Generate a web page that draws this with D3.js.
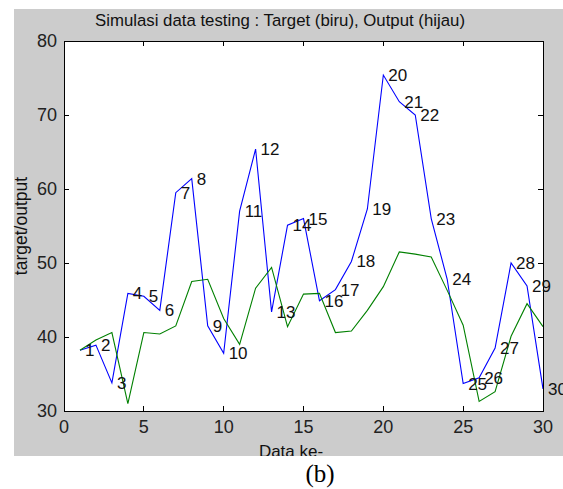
<!DOCTYPE html>
<html>
<head>
<meta charset="utf-8">
<script src="https://cdn.jsdelivr.net/npm/d3@7"></script>
<style>
  body { margin: 0; background: #fff; }
  svg { display: block; }
</style>
</head>
<body>
<div id="chart"></div>
<script>
// Data (30 testing samples)
const sampleIdx = d3.range(1, 31);
const targetVals = [38.2, 38.9, 33.8, 45.9, 45.5, 43.6, 59.5, 61.4, 41.5, 37.8,
                    57.0, 65.4, 43.4, 55.1, 56.0, 44.9, 46.4, 50.2, 57.3, 75.4,
                    71.8, 70.0, 56.0, 47.8, 33.7, 34.5, 38.5, 50.0, 46.9, 33.0];
const outputVals = [38.2, 39.6, 40.6, 31.0, 40.6, 40.4, 41.5, 47.5, 47.8, 42.5,
                    39.0, 46.6, 49.4, 41.4, 45.8, 45.9, 40.6, 40.8, 43.6, 46.8,
                    51.5, 51.2, 50.8, 46.3, 41.6, 31.3, 32.6, 40.1, 44.5, 41.4];
const xTicks = [0, 5, 10, 15, 20, 25, 30];
const yTicks = [30, 40, 50, 60, 70, 80];

const W = 563, H = 489;
const plot = { left: 64, right: 543, top: 41, bottom: 411 };

const svg = d3.select('#chart').append('svg')
    .attr('width', W)
    .attr('height', H)
    .style('font-family', 'Arial, "Liberation Sans", Helvetica, sans-serif');

// figure background (MATLAB grey)
svg.append('rect')
    .attr('x', 14).attr('y', 9)
    .attr('width', W - 14).attr('height', 456 - 9)
    .attr('fill', '#cccccc');

const x = d3.scaleLinear().domain([0, 30]).range([plot.left, plot.right]);
const y = d3.scaleLinear().domain([30, 80]).range([plot.bottom, plot.top]);

// axes face
svg.append('rect')
    .attr('x', plot.left).attr('y', plot.top)
    .attr('width', plot.right - plot.left)
    .attr('height', plot.bottom - plot.top)
    .attr('fill', '#ffffff');

// ticks pointing inward on all four sides, like a boxed matlab axes
const tickLen = 5;
const axisGroup = svg.append('g')
    .attr('stroke', '#000')
    .attr('stroke-width', 1)
    .attr('shape-rendering', 'crispEdges');

axisGroup.selectAll('.xt-bottom').data(xTicks).join('line')
    .attr('class', 'xt-bottom')
    .attr('x1', d => x(d)).attr('x2', d => x(d))
    .attr('y1', plot.bottom).attr('y2', plot.bottom - tickLen);
axisGroup.selectAll('.xt-top').data(xTicks).join('line')
    .attr('class', 'xt-top')
    .attr('x1', d => x(d)).attr('x2', d => x(d))
    .attr('y1', plot.top).attr('y2', plot.top + tickLen);
axisGroup.selectAll('.yt-left').data(yTicks).join('line')
    .attr('class', 'yt-left')
    .attr('x1', plot.left).attr('x2', plot.left + tickLen)
    .attr('y1', d => y(d)).attr('y2', d => y(d));
axisGroup.selectAll('.yt-right').data(yTicks).join('line')
    .attr('class', 'yt-right')
    .attr('x1', plot.right).attr('x2', plot.right - tickLen)
    .attr('y1', d => y(d)).attr('y2', d => y(d));

// series lines
const lineOf = vals => d3.line()
    .x((d, i) => x(sampleIdx[i]))
    .y(d => y(d))(vals);

svg.append('path')
    .attr('d', lineOf(targetVals))
    .attr('fill', 'none')
    .attr('stroke', '#0000ff')
    .attr('stroke-width', 1.1);

svg.append('path')
    .attr('d', lineOf(outputVals))
    .attr('fill', 'none')
    .attr('stroke', '#008000')
    .attr('stroke-width', 1.1);

// box outline on top of lines
svg.append('rect')
    .attr('x', plot.left).attr('y', plot.top)
    .attr('width', plot.right - plot.left)
    .attr('height', plot.bottom - plot.top)
    .attr('fill', 'none')
    .attr('stroke', '#000')
    .attr('stroke-width', 1)
    .attr('shape-rendering', 'crispEdges');

// point numbers next to each target value
svg.selectAll('.pt-label').data(targetVals).join('text')
    .attr('class', 'pt-label')
    .attr('x', (d, i) => x(sampleIdx[i]) + 5)
    .attr('y', d => y(d))
    .attr('dy', '0.35em')
    .attr('font-size', 17)
    .attr('fill', '#111')
    .text((d, i) => sampleIdx[i]);

// tick labels
svg.selectAll('.x-lab').data(xTicks).join('text')
    .attr('class', 'x-lab')
    .attr('x', d => x(d))
    .attr('y', plot.bottom + 22)
    .attr('text-anchor', 'middle')
    .attr('font-size', 18)
    .attr('fill', '#222')
    .text(d => d);

svg.selectAll('.y-lab').data(yTicks).join('text')
    .attr('class', 'y-lab')
    .attr('x', plot.left - 7)
    .attr('y', d => y(d))
    .attr('dy', '0.35em')
    .attr('text-anchor', 'end')
    .attr('font-size', 18)
    .attr('fill', '#222')
    .text(d => d);

// title
svg.append('text')
    .attr('x', 280)
    .attr('y', 26)
    .attr('text-anchor', 'middle')
    .attr('font-size', 16.8)
    .attr('fill', '#111')
    .text('Simulasi data testing : Target (biru), Output (hijau)');

// y label
svg.append('text')
    .attr('transform', `translate(27,${(plot.top + plot.bottom) / 2}) rotate(-90)`)
    .attr('text-anchor', 'middle')
    .attr('font-size', 17.5)
    .attr('fill', '#111')
    .text('target/output');

// x label (bottom gets clipped by the figure edge)
svg.append('text')
    .attr('x', 291)
    .attr('y', 457)
    .attr('text-anchor', 'middle')
    .attr('font-size', 17)
    .attr('fill', '#111')
    .text('Data ke-');

svg.append('rect')
    .attr('x', 0).attr('y', 456)
    .attr('width', W).attr('height', H - 456)
    .attr('fill', '#ffffff');

// panel caption
svg.append('text')
    .attr('x', 320)
    .attr('y', 482)
    .attr('text-anchor', 'middle')
    .attr('font-family', '"Liberation Serif", "Times New Roman", serif')
    .attr('font-size', 25)
    .attr('fill', '#000')
    .text('(b)');
</script>
</body>
</html>
